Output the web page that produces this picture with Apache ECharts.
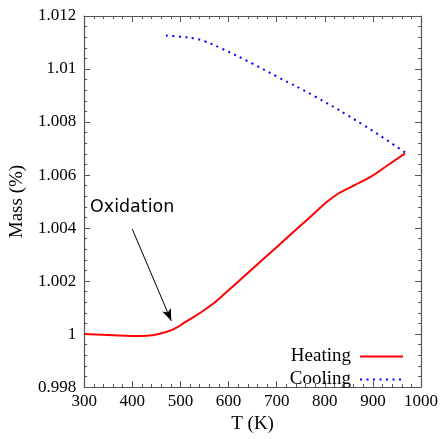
<!DOCTYPE html>
<html>
<head>
<meta charset="utf-8">
<script src="https://cdn.jsdelivr.net/npm/echarts@6/dist/echarts.min.js"></script>
<style>
html,body{margin:0;padding:0;background:#fff;}
#main{width:441px;height:439px;}
</style>
</head>
<body>
<div id="main"></div>
<script>
// heating curve (red)
var heatT = [300, 350, 400, 430, 460, 485, 510, 558, 600, 647, 700, 771, 819, 860, 895, 930, 967];
var heatM = [1.0000, 0.99997, 0.99993, 0.99994, 1.00003, 1.00018, 1.00045, 1.00101, 1.00165, 1.00242, 1.00328, 1.00444, 1.00519, 1.00560, 1.00593, 1.00636, 1.00682];
// cooling curve (blue dotted)
var coolT = [470, 500, 530, 550, 585, 650, 700, 780, 880, 967];
var coolM = [1.01126, 1.01122, 1.01115, 1.01105, 1.01078, 1.01020, 1.00972, 1.00896, 1.00789, 1.00685];
// annotation arrow
var arrowFrom = [400, 1.00396];
var arrowTo = [481, 1.0005];

function pairs(xs, ys){
	var out = [];
	for(var i=0;i<xs.length;i++){ out.push([xs[i], ys[i]]); }
	return out;
}

var serif = 'Liberation Serif';
var axisCol = '#555';

var myChart = echarts.init(document.getElementById('main'));

function axisBase(){
	return {
		type: 'value',
		axisLine: {show: true, lineStyle: {color: axisCol, width: 1.2}},
		axisTick: {show: true, inside: true, length: 6, lineStyle: {color: axisCol}},
		minorTick: {show: true, splitNumber: 5, length: 3, lineStyle: {color: axisCol}},
		splitLine: {show: false},
		minorSplitLine: {show: false}
	};
}

var x1 = axisBase();
x1.min = 300; x1.max = 1000; x1.interval = 100;
x1.position = 'bottom';
x1.name = 'T (K)';
x1.nameLocation = 'middle';
x1.nameGap = 26;
x1.nameTextStyle = {fontFamily: serif, fontSize: 19, color: '#000'};
x1.axisLabel = {fontFamily: serif, fontSize: 17, color: '#000', margin: 6,
	formatter: function(v){ return String(v); }};

var x2 = axisBase();
x2.min = 300; x2.max = 1000; x2.interval = 100;
x2.position = 'top';
x2.axisLabel = {show: false};

var y1 = axisBase();
y1.min = 0.998; y1.max = 1.012; y1.interval = 0.002;
y1.position = 'left';
y1.name = 'Mass (%)';
y1.nameLocation = 'middle';
y1.nameGap = 53;
y1.nameTextStyle = {fontFamily: serif, fontSize: 19, color: '#000'};
y1.axisLabel = {fontFamily: serif, fontSize: 17, color: '#000', margin: 8,
	formatter: function(v){ return String(parseFloat(v.toFixed(3))); }};

var y2 = axisBase();
y2.min = 0.998; y2.max = 1.012; y2.interval = 0.002;
y2.position = 'right';
y2.axisLabel = {show: false};

var option = {
	animation: false,
	backgroundColor: '#fff',
	title: {
		text: 'Oxidation',
		left: 90, top: 198, padding: 0,
		textStyle: {fontFamily: 'DejaVu Sans', fontSize: 17.5, fontWeight: 'normal', color: '#000'}
	},
	grid: {left: 82, right: 20, top: 16, bottom: 45},
	legend: {
		orient: 'vertical',
		right: 37, top: 347, padding: 0,
		align: 'right',
		itemWidth: 43, itemHeight: 14, itemGap: 4,
		itemStyle: {opacity: 0},
		textStyle: {fontFamily: serif, fontSize: 19, color: '#000', padding: [0, 4, 0, 0]},
		data: ['Heating', 'Cooling']
	},
	xAxis: [x1, x2],
	yAxis: [y1, y2],
	series: [
		{
			name: 'Heating',
			type: 'line',
			smooth: true,
			symbol: 'none',
			data: pairs(heatT, heatM),
			lineStyle: {color: '#f00', width: 2},
			itemStyle: {color: '#f00'},
			markLine: {
				silent: true,
				symbol: ['none', 'arrow'],
				symbolSize: [7, 12],
				label: {show: false},
				lineStyle: {color: '#000', width: 1, type: 'solid'},
				data: [[{coord: arrowFrom}, {coord: arrowTo}]]
			}
		},
		{
			name: 'Cooling',
			type: 'line',
			smooth: true,
			symbol: 'none',
			data: pairs(coolT, coolM),
			lineStyle: {color: '#00f', width: 2, type: [2, 4.5]},
			itemStyle: {color: '#00f'}
		}
	]
};

myChart.setOption(option);
</script>
</body>
</html>
